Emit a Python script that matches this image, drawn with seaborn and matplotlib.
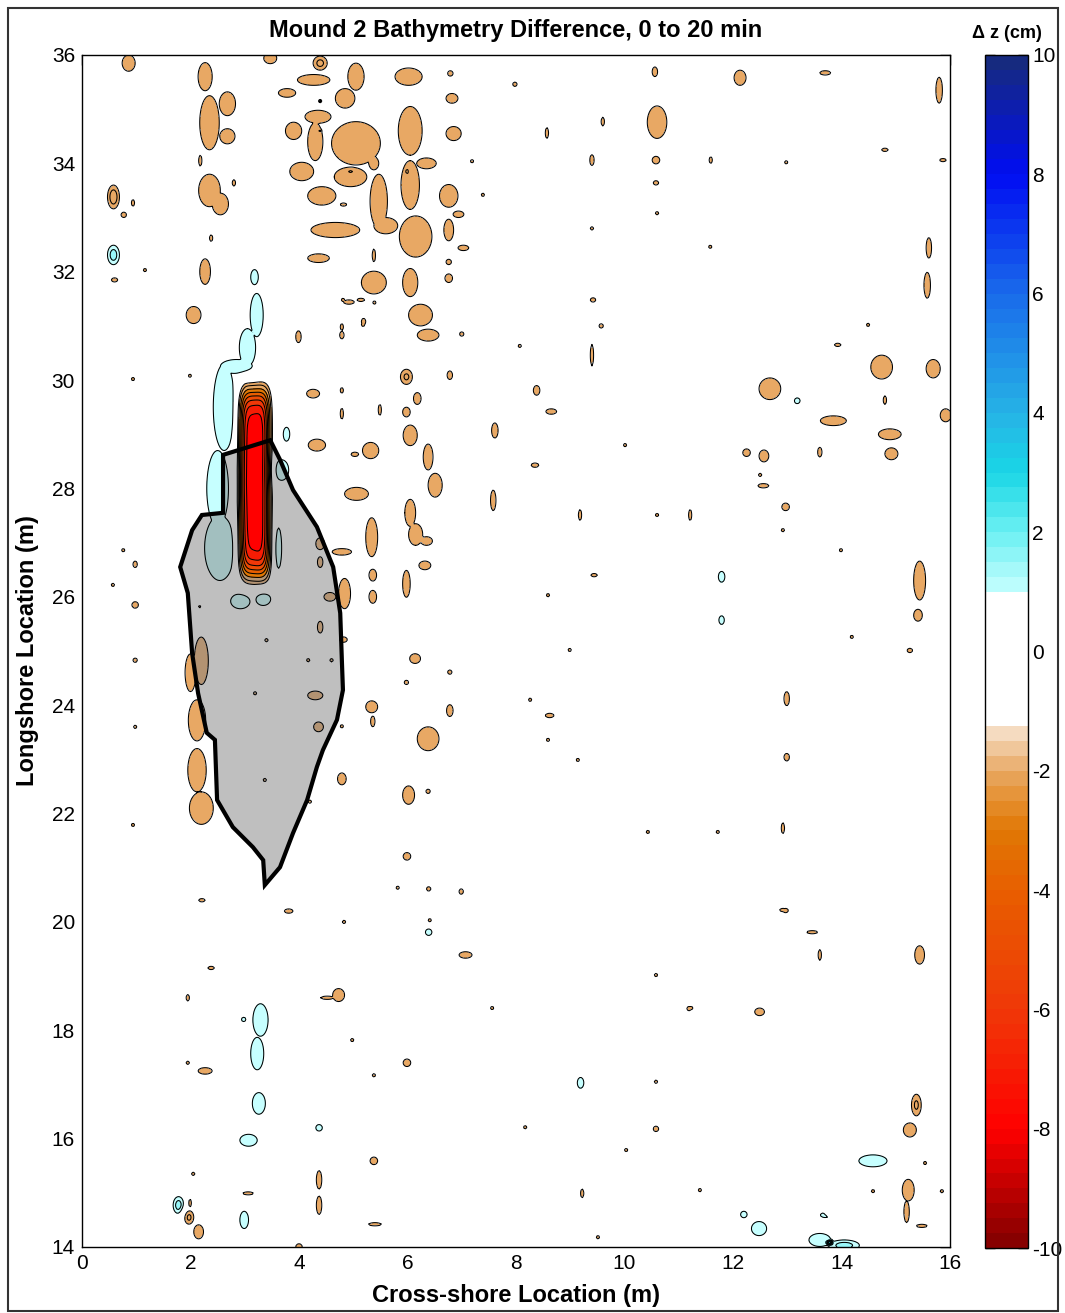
import numpy as np
import matplotlib
matplotlib.use("Agg")
import matplotlib.pyplot as plt
import seaborn as sns
from matplotlib.colors import LinearSegmentedColormap, ListedColormap, BoundaryNorm
from matplotlib.patches import Polygon, Rectangle
import matplotlib.cm as cm

sns.set_theme(style="white")
plt.rcParams['font.family'] = ['Liberation Sans', 'DejaVu Sans']
plt.rcParams['text.color'] = 'black'
plt.rcParams['axes.labelcolor'] = 'black'

# ---------------- data ----------------
title = "Mound 2 Bathymetry Difference, 0 to 20 min"
x_label = "Cross-shore Location (m)"
y_label = "Longshore Location (m)"
cbar_label = "\u0394 z (cm)"
x_ticks = [0, 2, 4, 6, 8, 10, 12, 14, 16]
y_ticks = [14, 16, 18, 20, 22, 24, 26, 28, 30, 32, 34, 36]
cbar_ticks = [-10, -8, -6, -4, -2, 0, 2, 4, 6, 8, 10]

# erosion patches (cx, cy, half-width x, half-width y, peak dz in cm)
tan_north = [
    (0.86, 35.85, 0.12, 0.15, -1.9), (2.27, 35.6, 0.13, 0.26, -1.9),
    (2.35, 34.75, 0.18, 0.5, -1.9), (2.68, 35.1, 0.15, 0.22, -1.9),
    (2.68, 34.5, 0.14, 0.14, -1.9), (2.35, 33.5, 0.2, 0.3, -1.9),
    (2.55, 33.25, 0.15, 0.2, -1.9), (2.27, 32.0, 0.1, 0.24, -1.9),
    (2.06, 31.2, 0.14, 0.16, -1.9), (3.47, 35.94, 0.12, 0.1, -1.9),
    (4.39, 35.85, 0.13, 0.13, -2.3), (4.27, 35.54, 0.3, 0.1, -1.9),
    (3.78, 35.3, 0.16, 0.08, -1.9), (5.05, 35.6, 0.15, 0.25, -1.9),
    (4.85, 35.2, 0.18, 0.18, -1.9), (4.35, 34.86, 0.24, 0.12, -1.9),
    (3.9, 34.6, 0.15, 0.16, -1.9), (5.05, 34.37, 0.45, 0.4, -1.9),
    (4.3, 34.4, 0.14, 0.35, -1.9), (4.05, 33.85, 0.22, 0.17, -1.9),
    (4.42, 33.4, 0.26, 0.17, -1.9), (4.95, 33.75, 0.3, 0.18, -1.9),
    (5.47, 33.3, 0.16, 0.5, -1.9), (4.67, 32.77, 0.45, 0.14, -1.9),
    (5.6, 32.85, 0.22, 0.15, -1.9), (6.05, 34.6, 0.22, 0.45, -1.9),
    (6.05, 33.6, 0.17, 0.45, -1.9), (6.15, 32.65, 0.3, 0.38, -1.9),
    (6.76, 33.4, 0.17, 0.21, -1.9), (6.35, 34.0, 0.18, 0.1, -1.9),
    (6.02, 35.6, 0.25, 0.16, -1.9), (6.79, 35.66, 0.05, 0.05, -1.9),
    (6.82, 35.2, 0.11, 0.09, -1.9), (6.85, 34.55, 0.14, 0.13, -1.9),
    (5.38, 34.0, 0.09, 0.12, -1.9), (6.94, 33.06, 0.1, 0.06, -1.9),
    (6.76, 32.77, 0.09, 0.2, -1.9), (7.03, 32.44, 0.1, 0.05, -1.9),
    (6.76, 32.18, 0.05, 0.05, -1.9), (6.76, 31.88, 0.07, 0.08, -1.9),
    (5.38, 31.8, 0.23, 0.21, -1.9), (6.05, 31.8, 0.14, 0.26, -1.9),
    (6.24, 31.2, 0.22, 0.2, -1.9), (4.36, 32.25, 0.2, 0.08, -1.9),
    (0.58, 33.38, 0.11, 0.22, -2.6), (0.77, 33.05, 0.05, 0.05, -1.9),
    (0.6, 31.85, 0.06, 0.04, -1.9), (4.92, 31.44, 0.1, 0.04, -1.9),
    (5.19, 31.08, 0.04, 0.06, -1.9),
]
tan_middle = [
    (6.38, 30.83, 0.2, 0.11, -1.9), (3.99, 30.8, 0.05, 0.11, -1.9),
    (4.79, 30.83, 0.04, 0.07, -1.9), (7.0, 30.85, 0.04, 0.04, -1.9),
    (5.98, 30.06, 0.11, 0.14, -2.2), (6.78, 30.09, 0.05, 0.08, -1.9),
    (4.26, 29.75, 0.12, 0.08, -1.9), (6.18, 29.66, 0.07, 0.11, -1.9),
    (5.98, 29.41, 0.07, 0.09, -1.9), (6.05, 28.98, 0.13, 0.19, -1.9),
    (4.33, 28.8, 0.16, 0.11, -1.9), (5.03, 28.63, 0.07, 0.04, -1.9),
    (5.32, 28.7, 0.15, 0.15, -1.9), (6.38, 28.58, 0.09, 0.24, -1.9),
    (6.51, 28.06, 0.13, 0.22, -1.9), (5.06, 27.9, 0.22, 0.12, -1.9),
    (7.61, 29.07, 0.06, 0.14, -1.9), (7.58, 27.78, 0.05, 0.19, -1.9),
    (8.38, 29.81, 0.06, 0.09, -1.9), (8.35, 28.43, 0.07, 0.04, -1.9),
    (6.05, 27.55, 0.1, 0.25, -1.9), (6.15, 27.15, 0.13, 0.2, -1.9),
    (6.35, 27.03, 0.11, 0.08, -1.9), (5.34, 27.1, 0.11, 0.36, -1.9),
    (4.79, 26.83, 0.18, 0.06, -1.9), (4.39, 26.98, 0.08, 0.11, -1.9),
    (4.39, 26.64, 0.05, 0.1, -1.9), (6.32, 26.58, 0.11, 0.08, -1.9),
    (5.98, 26.24, 0.07, 0.25, -1.9), (5.36, 26.4, 0.07, 0.11, -1.9),
    (5.36, 26.0, 0.07, 0.12, -1.9), (4.84, 26.06, 0.11, 0.28, -1.9),
    (4.57, 26.0, 0.11, 0.08, -1.9), (4.39, 25.44, 0.05, 0.11, -1.9),
    (4.82, 25.21, 0.07, 0.05, -1.9), (6.14, 24.86, 0.1, 0.09, -1.9),
    (6.78, 24.61, 0.04, 0.04, -1.9), (5.98, 24.42, 0.04, 0.04, -1.9),
    (4.3, 24.18, 0.14, 0.08, -1.9), (5.34, 23.97, 0.11, 0.11, -1.9),
    (5.36, 23.7, 0.04, 0.1, -1.9), (6.78, 23.9, 0.06, 0.11, -1.9),
    (4.36, 23.6, 0.09, 0.09, -1.9), (6.38, 23.38, 0.2, 0.22, -1.9),
    (4.79, 22.64, 0.08, 0.11, -1.9), (6.02, 22.34, 0.11, 0.17, -1.9),
    (6.38, 22.41, 0.04, 0.04, -1.9), (2.2, 24.83, 0.13, 0.45, -1.9),
    (2.0, 24.6, 0.1, 0.35, -1.9), (2.12, 23.72, 0.16, 0.38, -1.9),
    (2.12, 22.8, 0.17, 0.4, -1.9), (2.2, 22.1, 0.22, 0.3, -1.9),
    (0.98, 25.85, 0.06, 0.06, -1.9), (0.98, 24.83, 0.04, 0.04, -1.9),
    (0.98, 26.6, 0.04, 0.06, -1.9),
]
tan_south = [
    (5.99, 21.21, 0.07, 0.07, -1.9), (6.39, 20.61, 0.04, 0.04, -1.9),
    (6.99, 20.56, 0.04, 0.05, -1.9), (3.81, 20.2, 0.08, 0.04, -1.9),
    (7.07, 19.39, 0.12, 0.06, -1.9), (4.73, 18.65, 0.11, 0.12, -1.9),
    (2.27, 17.25, 0.13, 0.06, -1.9), (5.99, 17.4, 0.07, 0.07, -1.9),
    (5.38, 15.59, 0.07, 0.07, -1.9), (4.37, 15.24, 0.05, 0.17, -1.9),
    (4.37, 14.77, 0.05, 0.17, -1.9), (1.97, 14.55, 0.09, 0.13, -2.3),
    (2.15, 14.28, 0.09, 0.13, -1.9), (4.0, 14.0, 0.06, 0.06, -1.9),
]
tan_east = [
    (8.65, 29.42, 0.1, 0.05, -1.9), (8.62, 23.81, 0.08, 0.04, -1.9),
    (12.99, 24.12, 0.05, 0.13, -1.9), (12.99, 23.04, 0.05, 0.07, -1.9),
    (12.68, 29.84, 0.2, 0.2, -1.9), (13.85, 29.25, 0.24, 0.09, -1.9),
    (14.74, 30.24, 0.2, 0.22, -1.9), (15.69, 30.21, 0.13, 0.17, -1.9),
    (15.92, 29.35, 0.1, 0.12, -1.9), (14.89, 29.0, 0.21, 0.1, -1.9),
    (14.92, 28.64, 0.12, 0.11, -1.9), (12.25, 28.66, 0.07, 0.07, -1.9),
    (12.57, 28.6, 0.09, 0.11, -1.9), (13.6, 28.67, 0.04, 0.09, -1.9),
    (12.56, 28.05, 0.1, 0.04, -1.9), (12.97, 27.66, 0.07, 0.07, -1.9),
    (15.44, 26.3, 0.11, 0.36, -1.9), (15.41, 25.66, 0.08, 0.11, -1.9),
    (15.26, 25.01, 0.05, 0.04, -1.9), (12.97, 20.21, 0.05, 0.04, -1.9),
    (15.44, 19.39, 0.09, 0.17, -1.9), (12.49, 18.34, 0.09, 0.07, -1.9),
    (11.19, 18.4, 0.04, 0.04, -1.9), (10.58, 16.18, 0.05, 0.05, -1.9),
    (15.38, 16.62, 0.09, 0.2, -2.2), (15.26, 16.16, 0.12, 0.13, -1.9),
    (15.23, 15.05, 0.11, 0.2, -1.9), (15.2, 14.65, 0.05, 0.2, -1.9),
    (10.56, 35.69, 0.05, 0.09, -1.9), (12.13, 35.58, 0.11, 0.14, -1.9),
    (13.7, 35.67, 0.1, 0.04, -1.9), (7.98, 35.46, 0.04, 0.04, -1.9),
    (15.8, 35.35, 0.06, 0.24, -1.9), (10.6, 34.76, 0.18, 0.3, -1.9),
    (10.58, 34.06, 0.07, 0.07, -1.9), (10.58, 33.64, 0.05, 0.04, -1.9),
    (9.4, 34.06, 0.04, 0.1, -1.9), (9.6, 34.77, 0.03, 0.08, -1.9),
    (15.61, 32.44, 0.05, 0.19, -1.9), (15.58, 31.75, 0.06, 0.24, -1.9),
    (9.42, 31.48, 0.05, 0.04, -1.9), (9.57, 31.0, 0.04, 0.04, -1.9),
]
# small darker cores inside some erosion patches
dark_marks = [
    (5.99, 33.85, 0.03, 0.07, -2.7), (4.95, 33.85, 0.05, 0.03, -2.7),
    (4.39, 35.15, 0.03, 0.03, -2.7), (4.39, 34.6, 0.03, 0.03, -2.7),
    (15.38, 16.65, 0.03, 0.08, -2.7),
]
# accretion patches
cyan_patches = [
    (0.58, 32.31, 0.11, 0.18, 1.8), (3.18, 31.9, 0.07, 0.14, 1.45),
    (3.22, 31.2, 0.12, 0.4, 1.45), (3.05, 30.6, 0.15, 0.35, 1.45),
    (2.85, 30.25, 0.3, 0.13, 1.45), (2.62, 29.5, 0.2, 0.8, 1.45),
    (2.5, 28.0, 0.2, 0.7, 1.45), (2.54, 26.9, 0.28, 0.6, 1.45),
    (3.62, 26.9, 0.06, 0.38, 1.45), (3.77, 29.0, 0.06, 0.13, 1.45),
    (3.68, 28.34, 0.13, 0.19, 1.45), (2.92, 25.92, 0.18, 0.14, 1.45),
    (3.34, 25.96, 0.14, 0.12, 1.45), (3.29, 18.19, 0.14, 0.3, 1.45),
    (3.23, 17.57, 0.12, 0.3, 1.45), (2.98, 18.2, 0.04, 0.04, 1.45),
    (3.26, 16.65, 0.12, 0.2, 1.45), (4.37, 16.2, 0.06, 0.06, 1.45),
    (3.07, 15.97, 0.16, 0.11, 1.45), (1.78, 14.77, 0.1, 0.16, 1.8),
    (2.99, 14.5, 0.08, 0.16, 1.45), (6.39, 19.81, 0.06, 0.06, 1.45),
    (13.18, 29.62, 0.06, 0.06, 1.45), (11.79, 26.37, 0.06, 0.1, 1.45),
    (11.79, 25.57, 0.05, 0.08, 1.45), (9.19, 17.03, 0.06, 0.1, 1.45),
    (14.58, 15.59, 0.26, 0.11, 1.45), (12.2, 14.6, 0.06, 0.06, 1.45),
    (12.48, 14.34, 0.14, 0.13, 1.45), (13.72, 14.59, 0.11, 0.05, 1.45),
    (13.6, 14.13, 0.2, 0.12, 1.45), (14.05, 14.03, 0.28, 0.1, 1.8),
    (13.78, 14.08, 0.08, 0.06, 3.5),
]
# tiny single-cell changes (cx, cy, half-width x, half-width y)
specks = [
    (8.57, 34.56, 0.03, 0.1), (11.59, 34.06, 0.03, 0.06), (12.98, 34.02, 0.03, 0.03),
    (14.8, 34.25, 0.06, 0.03), (15.87, 34.06, 0.06, 0.03), (10.6, 33.08, 0.03, 0.03),
    (7.39, 33.42, 0.03, 0.03), (9.4, 32.8, 0.03, 0.03), (11.58, 32.46, 0.03, 0.03),
    (2.8, 33.64, 0.03, 0.06), (0.94, 33.27, 0.03, 0.06), (1.16, 32.03, 0.03, 0.03),
    (2.38, 32.62, 0.03, 0.06), (4.81, 31.48, 0.03, 0.03), (5.14, 31.48, 0.07, 0.03),
    (5.18, 31.02, 0.03, 0.03), (9.4, 30.46, 0.03, 0.2), (5.49, 29.45, 0.03, 0.1),
    (4.79, 29.38, 0.03, 0.1), (4.79, 29.81, 0.03, 0.05), (8.07, 30.63, 0.03, 0.03),
    (9.18, 27.51, 0.03, 0.1), (10.6, 27.51, 0.03, 0.03), (10.01, 28.8, 0.03, 0.03),
    (9.44, 26.4, 0.06, 0.03), (8.59, 26.03, 0.03, 0.03), (8.99, 25.02, 0.03, 0.03),
    (12.5, 28.25, 0.03, 0.03), (14.49, 31.02, 0.03, 0.03), (13.93, 30.65, 0.06, 0.03),
    (14.8, 29.63, 0.03, 0.08), (13.99, 26.86, 0.03, 0.03), (14.19, 25.26, 0.03, 0.03),
    (12.92, 27.23, 0.03, 0.03), (11.21, 27.51, 0.03, 0.1), (9.14, 22.99, 0.03, 0.03),
    (8.59, 23.36, 0.03, 0.03), (8.26, 24.1, 0.03, 0.03), (11.72, 21.66, 0.03, 0.03),
    (12.92, 21.73, 0.03, 0.1), (10.43, 21.66, 0.03, 0.03), (12.92, 20.22, 0.06, 0.03),
    (13.46, 19.81, 0.1, 0.03), (13.6, 19.39, 0.03, 0.1), (10.58, 19.02, 0.03, 0.03),
    (7.56, 18.41, 0.03, 0.03), (11.23, 18.41, 0.03, 0.03), (10.58, 17.05, 0.03, 0.03),
    (11.39, 15.05, 0.03, 0.03), (10.03, 15.79, 0.03, 0.03), (9.22, 14.99, 0.03, 0.08),
    (8.17, 16.21, 0.03, 0.03), (9.51, 14.18, 0.03, 0.03), (14.58, 15.03, 0.03, 0.03),
    (15.54, 15.55, 0.03, 0.03), (15.85, 15.03, 0.03, 0.03), (15.48, 14.39, 0.1, 0.03),
    (13.75, 14.63, 0.03, 0.03), (1.95, 18.6, 0.03, 0.06), (1.95, 17.4, 0.03, 0.03),
    (2.05, 15.35, 0.03, 0.03), (1.99, 14.81, 0.03, 0.08), (3.06, 14.99, 0.1, 0.03),
    (5.4, 14.42, 0.12, 0.03), (2.38, 19.15, 0.06, 0.03), (2.21, 20.4, 0.06, 0.03),
    (4.83, 20.0, 0.03, 0.03), (5.82, 20.63, 0.03, 0.03), (6.41, 20.03, 0.03, 0.03),
    (4.98, 17.82, 0.03, 0.03), (5.38, 17.17, 0.03, 0.03), (0.94, 21.79, 0.03, 0.03),
    (0.98, 23.6, 0.03, 0.03), (0.94, 30.02, 0.03, 0.03), (1.99, 30.08, 0.03, 0.03),
    (0.57, 26.22, 0.03, 0.03), (0.76, 26.86, 0.03, 0.03), (4.52, 18.6, 0.12, 0.03),
    (2.18, 34.05, 0.03, 0.1), (4.82, 33.24, 0.06, 0.03), (5.39, 31.43, 0.03, 0.03),
    (4.79, 30.98, 0.03, 0.06), (5.38, 32.3, 0.03, 0.12), (7.19, 34.04, 0.03, 0.03),
    (3.4, 25.2, 0.03, 0.03), (2.17, 25.82, 0.03, 0.03), (4.17, 24.83, 0.03, 0.03),
    (4.6, 24.83, 0.03, 0.03), (3.19, 24.22, 0.03, 0.03), (3.37, 22.62, 0.03, 0.03),
    (4.2, 22.22, 0.03, 0.03), (4.79, 23.61, 0.03, 0.03),
]
speck_dz = -1.8

# scour hole in front of the mound (the red column): centre, spread, depth
scour_x, scour_y = 3.18, 28.1
scour_sx, scour_sy = 0.235, 1.59
scour_dz = -8.8

# mound footprint outline
mound_x = [2.60, 3.47, 3.65, 3.89, 4.33, 4.63, 4.76, 4.79, 4.81, 4.70, 4.44, 4.33,
           4.15, 3.89, 3.65, 3.37, 3.34, 3.15, 2.78, 2.49, 2.45, 2.30, 2.14, 2.03,
           1.95, 1.81, 2.03, 2.21, 2.60]
mound_y = [28.62, 28.89, 28.53, 27.97, 27.29, 26.55, 25.70, 24.83, 24.28, 23.73,
           23.17, 22.86, 22.25, 21.64, 21.01, 20.68, 21.14, 21.38, 21.75, 22.25,
           23.36, 23.49, 24.22, 24.96, 26.07, 26.55, 27.23, 27.51, 27.55]

# colour scale anchors (dz value, RGB)
cmap_vals = [-10, -8, -6, -4, -3, -2.5, -2, -1.5, -1.25, -1.2499, 0.9999, 1.0,
             2, 3, 4, 6, 8, 10]
cmap_rgb = [(0.50, 0.0, 0.0), (1.0, 0.0, 0.0), (0.94, 0.22, 0.03), (0.91, 0.37, 0.0),
            (0.88, 0.47, 0.02), (0.90, 0.56, 0.18), (0.91, 0.66, 0.39), (0.95, 0.82, 0.68),
            (0.97, 0.90, 0.82), (1, 1, 1), (1, 1, 1), (0.78, 1.0, 1.0),
            (0.42, 0.94, 0.95), (0.10, 0.84, 0.90), (0.15, 0.70, 0.90), (0.10, 0.42, 0.92),
            (0.0, 0.05, 0.95), (0.09, 0.17, 0.47)]

NEG_EDGE, POS_EDGE = -1.25, 1.0

# ---------------- build the gridded field ----------------
xg = np.linspace(0, 16, 641)
yg = np.linspace(14, 36, 881)
X, Y = np.meshgrid(xg, yg)
neg = np.zeros_like(X)
pos = np.zeros_like(X)


def patch(cx, cy, sx, sy, dz, px=2.0, py=2.0):
    i0 = max(np.searchsorted(xg, cx - 6 * sx) - 1, 0)
    i1 = np.searchsorted(xg, cx + 6 * sx) + 1
    j0 = max(np.searchsorted(yg, cy - 6 * sy) - 1, 0)
    j1 = np.searchsorted(yg, cy + 6 * sy) + 1
    sl = (slice(j0, j1), slice(i0, i1))
    dx = np.abs((X[sl] - cx) / sx)
    dy = np.abs((Y[sl] - cy) / sy)
    return sl, dz * np.exp(-0.5 * (dx ** px + dy ** py))


def sized(hx, hy, dz, edge):
    # spread so that the outer contour sits at the measured half-widths
    k = np.sqrt(2 * np.log(abs(dz) / abs(edge)))
    return hx / k, hy / k


for group in (tan_north, tan_middle, tan_south, tan_east, dark_marks):
    for cx, cy, hx, hy, dz in group:
        sx, sy = sized(hx, hy, dz, NEG_EDGE)
        sl, v = patch(cx, cy, sx, sy, dz)
        neg[sl] = np.minimum(neg[sl], v)
for cx, cy, hx, hy in specks:
    sx, sy = sized(hx, hy, speck_dz, NEG_EDGE)
    sl, v = patch(cx, cy, sx, sy, speck_dz)
    neg[sl] = np.minimum(neg[sl], v)
sl, v = patch(scour_x, scour_y, scour_sx, scour_sy, scour_dz, px=4.0, py=8.0)
neg[sl] = np.minimum(neg[sl], v)
for cx, cy, hx, hy, dz in cyan_patches:
    sx, sy = sized(hx, hy, dz, POS_EDGE)
    sl, v = patch(cx, cy, sx, sy, dz)
    pos[sl] = np.maximum(pos[sl], v)
Z = neg + pos

# ---------------- colours ----------------
base = LinearSegmentedColormap.from_list(
    "bathy", [((v + 10) / 20.0, c) for v, c in zip(cmap_vals, cmap_rgb)], N=2048)


def cval(v):
    return base((np.clip(v, -10, 10) + 10) / 20.0)


levels = np.concatenate([[-15], np.arange(-10, -1.99, 1.0), [NEG_EDGE, POS_EDGE],
                         np.arange(1.5, 10.01, 0.5), [15]])
band_colors = []
for a, b in zip(levels[:-1], levels[1:]):
    if b <= -2.0:
        band_colors.append(cval(b))
    elif b <= NEG_EDGE:
        band_colors.append(cval(-2.0))
    elif a >= POS_EDGE:
        band_colors.append(cval(a + 0.01))
    else:
        band_colors.append((1, 1, 1, 1))

# ---------------- figure ----------------
fig = plt.figure(figsize=(10.65, 13.13), dpi=100)
ax = fig.add_axes([82 / 1065, 1 - 1247 / 1313, 868 / 1065, 1192 / 1313])

ax.contourf(X, Y, Z, levels=levels, colors=band_colors, zorder=1)
ax.add_patch(Polygon(np.column_stack([mound_x, mound_y]), closed=True,
                     facecolor=(0.5, 0.5, 0.5), alpha=0.5, edgecolor='none', zorder=2))
red_levels = levels[levels <= -3.0]
ax.contourf(X, Y, Z, levels=red_levels, colors=band_colors[:len(red_levels) - 1], zorder=3)
ax.contour(X, Y, Z, levels=levels[1:-1], colors='black', linewidths=0.75,
           linestyles='solid', negative_linestyles='solid', zorder=4)
ax.add_patch(Polygon(np.column_stack([mound_x, mound_y]), closed=True,
                     facecolor='none', edgecolor='black', linewidth=3.0, zorder=5))

ax.set_xlim(0, 16)
ax.set_ylim(14, 36)
ax.set_xticks(x_ticks)
ax.set_yticks(y_ticks)
ax.tick_params(direction='in', length=7, width=1, top=True, right=True,
               labelsize=15, colors='black', pad=5)
for s in ax.spines.values():
    s.set_color('black')
    s.set_linewidth(1.0)
ax.set_xlabel(x_label, fontsize=17, fontweight='bold', labelpad=8)
ax.set_ylabel(y_label, fontsize=17, fontweight='bold', labelpad=9)
ax.set_title(title, fontsize=17, fontweight='bold', pad=13)

# colour bar
cax = fig.add_axes([985 / 1065, 1 - 1248 / 1313, 43 / 1065, 1193 / 1313])
bar_bounds = np.arange(-10, 10.01, 0.25)
bar_colors = [cval((a + b) / 2) for a, b in zip(bar_bounds[:-1], bar_bounds[1:])]
sm = cm.ScalarMappable(norm=BoundaryNorm(bar_bounds, len(bar_colors)),
                       cmap=ListedColormap(bar_colors))
cb = fig.colorbar(sm, cax=cax, ticks=cbar_ticks)
cb.minorticks_off()
cb.outline.set_edgecolor('black')
cb.outline.set_linewidth(1.0)
cax.tick_params(which='both', direction='in', length=7, width=1, left=True, right=True,
                labelsize=15, colors='black', pad=3)
cax.tick_params(which='minor', length=0)
cax.set_yticks(cbar_ticks)
cax.set_yticklabels([str(t) for t in cbar_ticks])
cax.set_title(cbar_label, fontsize=13, fontweight='bold', pad=12)

# outer frame
fig.add_artist(Rectangle((8 / 1065, 2 / 1313), 1050 / 1065, 1303 / 1313,
                         transform=fig.transFigure, fill=False,
                         edgecolor='#333333', linewidth=1.5))

fig.savefig("out.png", dpi=100, facecolor='white')
